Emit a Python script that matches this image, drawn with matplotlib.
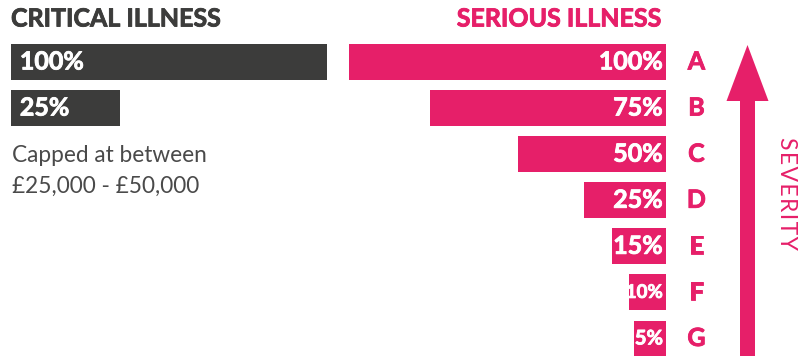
import matplotlib
matplotlib.use("Agg")
import matplotlib.pyplot as plt
from matplotlib.patches import FancyArrow
import matplotlib.patheffects as pe

# data
critical_labels = ["100%", "25%"]
critical_lengths = [100, 34.5]   # drawn length, short bar padded to fit its label
serious_grades = ["A", "B", "C", "D", "E", "F", "G"]
serious_labels = ["100%", "75%", "50%", "25%", "15%", "10%", "5%"]
serious_lengths = [100, 74.5, 46.7, 25.9, 17.0, 11.7, 10.1]

PINK = "#e61f69"
DARK = "#3c3c3b"
W, H = 798, 356
FONT = "Lato"
BIG = 18


def heavy(c):
    # Lato has no black weight installed, so thicken bold a little
    return [pe.withStroke(linewidth=0.6, foreground=c)]


fig = plt.figure(figsize=(W / 100, H / 100), dpi=100)

step = 46.08
top = 62 - step / 2
bottom = 62 + 6 * step + step / 2


def px_axes(x0, x1):
    return fig.add_axes([x0 / W, 1 - bottom / H, (x1 - x0) / W, (bottom - top) / H])


# critical illness bars
axl = px_axes(11, 327)
yl = list(range(len(critical_lengths)))
axl.barh(yl, critical_lengths, height=0.78, color=DARK)
axl.set_xlim(0, 100)
axl.set_ylim(6.5, -0.5)
for y, lab in zip(yl, critical_labels):
    axl.text(2.8, y, lab, color="white", fontsize=BIG, fontweight="bold",
             family=FONT, va="center", ha="left", path_effects=heavy("white"))
axl.axis("off")

# serious illness bars, growing leftwards from a common edge
axr = px_axes(349, 666)
yr = list(range(len(serious_lengths)))
axr.barh(yr, serious_lengths, height=0.78, color=PINK)
axr.set_xlim(100, 0)
axr.set_ylim(6.5, -0.5)
sizes = [BIG, BIG, BIG, BIG, BIG, 13.5, 14.5]
for y, lab in zip(yr, serious_labels):
    axr.text(1.0, y, lab, color="white", fontsize=sizes[y], fontweight="bold",
             family=FONT, va="center", ha="right", path_effects=heavy("white"))
    axr.text(-9.6, y, serious_grades[y], color=PINK, fontsize=BIG, fontweight="bold",
             family=FONT, va="center", ha="center", clip_on=False,
             path_effects=heavy(PINK))
axr.axis("off")

# overlay for titles, notes and the severity arrow
ov = fig.add_axes([0, 0, 1, 1])
ov.set_xlim(0, W)
ov.set_ylim(H, 0)
ov.axis("off")
ov.text(11, 19, "CRITICAL ILLNESS", color=DARK, fontsize=BIG, fontweight="bold",
        family=FONT, va="center", ha="left", path_effects=heavy(DARK))
ov.text(661, 19, "SERIOUS ILLNESS", color=PINK, fontsize=BIG, fontweight="bold",
        family=FONT, va="center", ha="right", path_effects=heavy(PINK))
ov.text(12, 156, "Capped at between", color="#4a4a4a", fontsize=16.3,
        family=FONT, va="center", ha="left")
ov.text(12, 186, "£25,000 - £50,000", color="#4a4a4a", fontsize=16.3,
        family=FONT, va="center", ha="left")
ov.add_patch(FancyArrow(747.5, 360, 0, -315, width=15, head_width=42,
                        head_length=56, length_includes_head=True,
                        color=PINK, lw=0))
ov.text(786, 193, "S E V E R I T Y".replace(" ", "\u200a"), color=PINK, fontsize=16.5,
        rotation=-90, family=FONT, va="center", ha="center")

fig.savefig("out.png", dpi=100)
